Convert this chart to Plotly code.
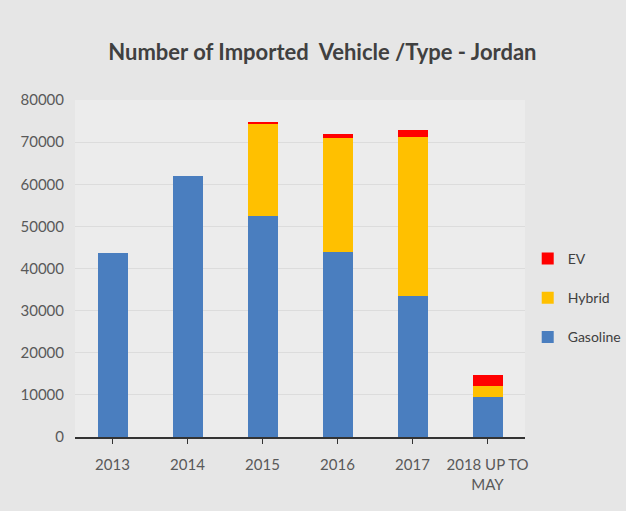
import plotly.graph_objects as go

categories = ["2013", "2014", "2015", "2016", "2017", "2018 UP TO<br>MAY"]
gasoline = [43700, 62000, 52500, 44000, 33500, 9400]
hybrid = [0, 0, 21800, 26900, 37700, 2800]
ev = [0, 0, 500, 1000, 1600, 2500]

fig = go.Figure()
fig.add_trace(go.Bar(name="Gasoline", x=categories, y=gasoline, marker_color="#4a7ebf",
                     marker_line_width=0, legendgroup="g", legendrank=3))
fig.add_trace(go.Bar(name="Hybrid", x=categories, y=hybrid, marker_color="#ffc000",
                     marker_line_width=0, legendgroup="h", legendrank=2))
fig.add_trace(go.Bar(name="EV", x=categories, y=ev, marker_color="#ff0000",
                     marker_line_width=0, legendgroup="e", legendrank=1))

fig.update_layout(
    barmode="stack",
    bargap=0.6,
    width=626, height=511,
    margin=dict(l=75, r=101, t=100, b=74, autoexpand=False),
    paper_bgcolor="#e6e6e6",
    plot_bgcolor="#ececec",
    font=dict(family="Lato, Open Sans, sans-serif", color="#595959", size=15),
    title=dict(text="<b>Number of Imported  Vehicle /Type - Jordan</b>",
               x=0.515, xanchor="center", y=0.898, yanchor="middle",
               font=dict(size=22, color="#404040")),
    legend=dict(traceorder="grouped", xref="container", yref="container",
                x=0.843, xanchor="left", y=0.417, yanchor="middle",
                font=dict(size=14, color="#404040"), tracegroupgap=18,
                itemwidth=30, bgcolor="rgba(0,0,0,0)"),
    showlegend=True,
)
fig.update_xaxes(showline=True, linecolor="#333333", linewidth=2, ticks="outside",
                 tickcolor="#333333", ticklen=5, showgrid=False,
                 tickfont=dict(size=15, color="#595959"), ticklabelstandoff=8)
fig.update_yaxes(range=[0, 80000], dtick=10000, showgrid=True, gridcolor="#dcdcdc",
                 zeroline=False, showline=False, tickformat="d",
                 tickfont=dict(size=15, color="#595959"), ticklabelstandoff=10)

fig.write_html("out.html")
